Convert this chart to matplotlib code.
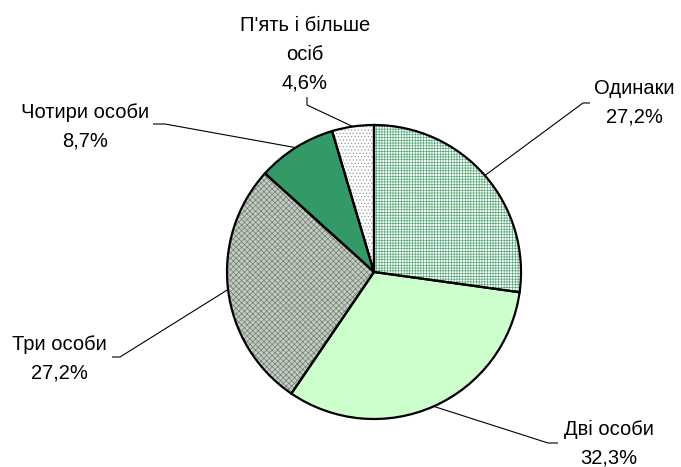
import numpy as np
import matplotlib
matplotlib.use("Agg")
import matplotlib.pyplot as plt

# ---- data ----
categories = ["Одинаки", "Дві особи", "Три особи", "Чотири особи", "П'ять і більше\nосіб"]
shares = [27.2, 32.3, 27.2, 8.7, 4.6]

# ---- styles ----
face_colors = ["#ffffff", "#ccffcc", "#c4ccc4", "#339966", "#ffffff"]
hatch_colors = ["#55aa77", "#ccffcc", "#6f7f6f", "#339966", "#9a9a9a"]
hatches = ["++++++", None, "xxxxxx", None, "....."]

plt.rcParams['font.family'] = ['Liberation Sans', 'DejaVu Sans']
plt.rcParams['hatch.linewidth'] = 0.5

W, H = 681, 467
fig = plt.figure(figsize=(W / 100, H / 100), dpi=100)
ax = fig.add_axes([0, 0, 1, 1])

center = (374, H - 272)
radius = 147

# hatched fill layer
wedges, _ = ax.pie(shares, startangle=90, counterclock=False, center=center,
                   radius=radius, colors=face_colors,
                   wedgeprops=dict(linewidth=0))
for w, hc, h in zip(wedges, hatch_colors, hatches):
    w.set_edgecolor(hc)
    if h:
        w.set_hatch(h)
# outline layer
wedges2, _ = ax.pie(shares, startangle=90, counterclock=False, center=center,
                    radius=radius, colors=["none"] * len(shares),
                    wedgeprops=dict(linewidth=1.6, edgecolor="black"))

ax.set_xlim(0, W)
ax.set_ylim(0, H)
ax.set_aspect('equal')
ax.axis('off')

# label layout (pixel coords from top-left): text center, elbow, stub end
text_pos = [(634, 103), (609, 444), (59, 359), (85, 127), (305, 54)]
elbows = [(583, 103), (548, 443), (120, 357), (165, 124), (307, 105)]
stub_ends = [(590, 103), (558, 443), (112, 357), (153, 124), (307, 97)]

for w, cat, val, tp, el, se in zip(wedges, categories, shares, text_pos, elbows, stub_ends):
    mid = np.deg2rad((w.theta1 + w.theta2) / 2)
    ax_pt = (center[0] + radius * np.cos(mid), center[1] + radius * np.sin(mid))
    xs = [ax_pt[0], el[0], se[0]]
    ys = [ax_pt[1], H - el[1], H - se[1]]
    ax.plot(xs, ys, color="black", lw=0.8, solid_capstyle='butt')
    label = f"{cat}\n{val:.1f}%".replace('.', ',')
    ax.text(tp[0], H - tp[1], label, ha='center', va='center', fontsize=14.5,
            linespacing=1.65, color='black')

fig.savefig("out.png", dpi=100)
